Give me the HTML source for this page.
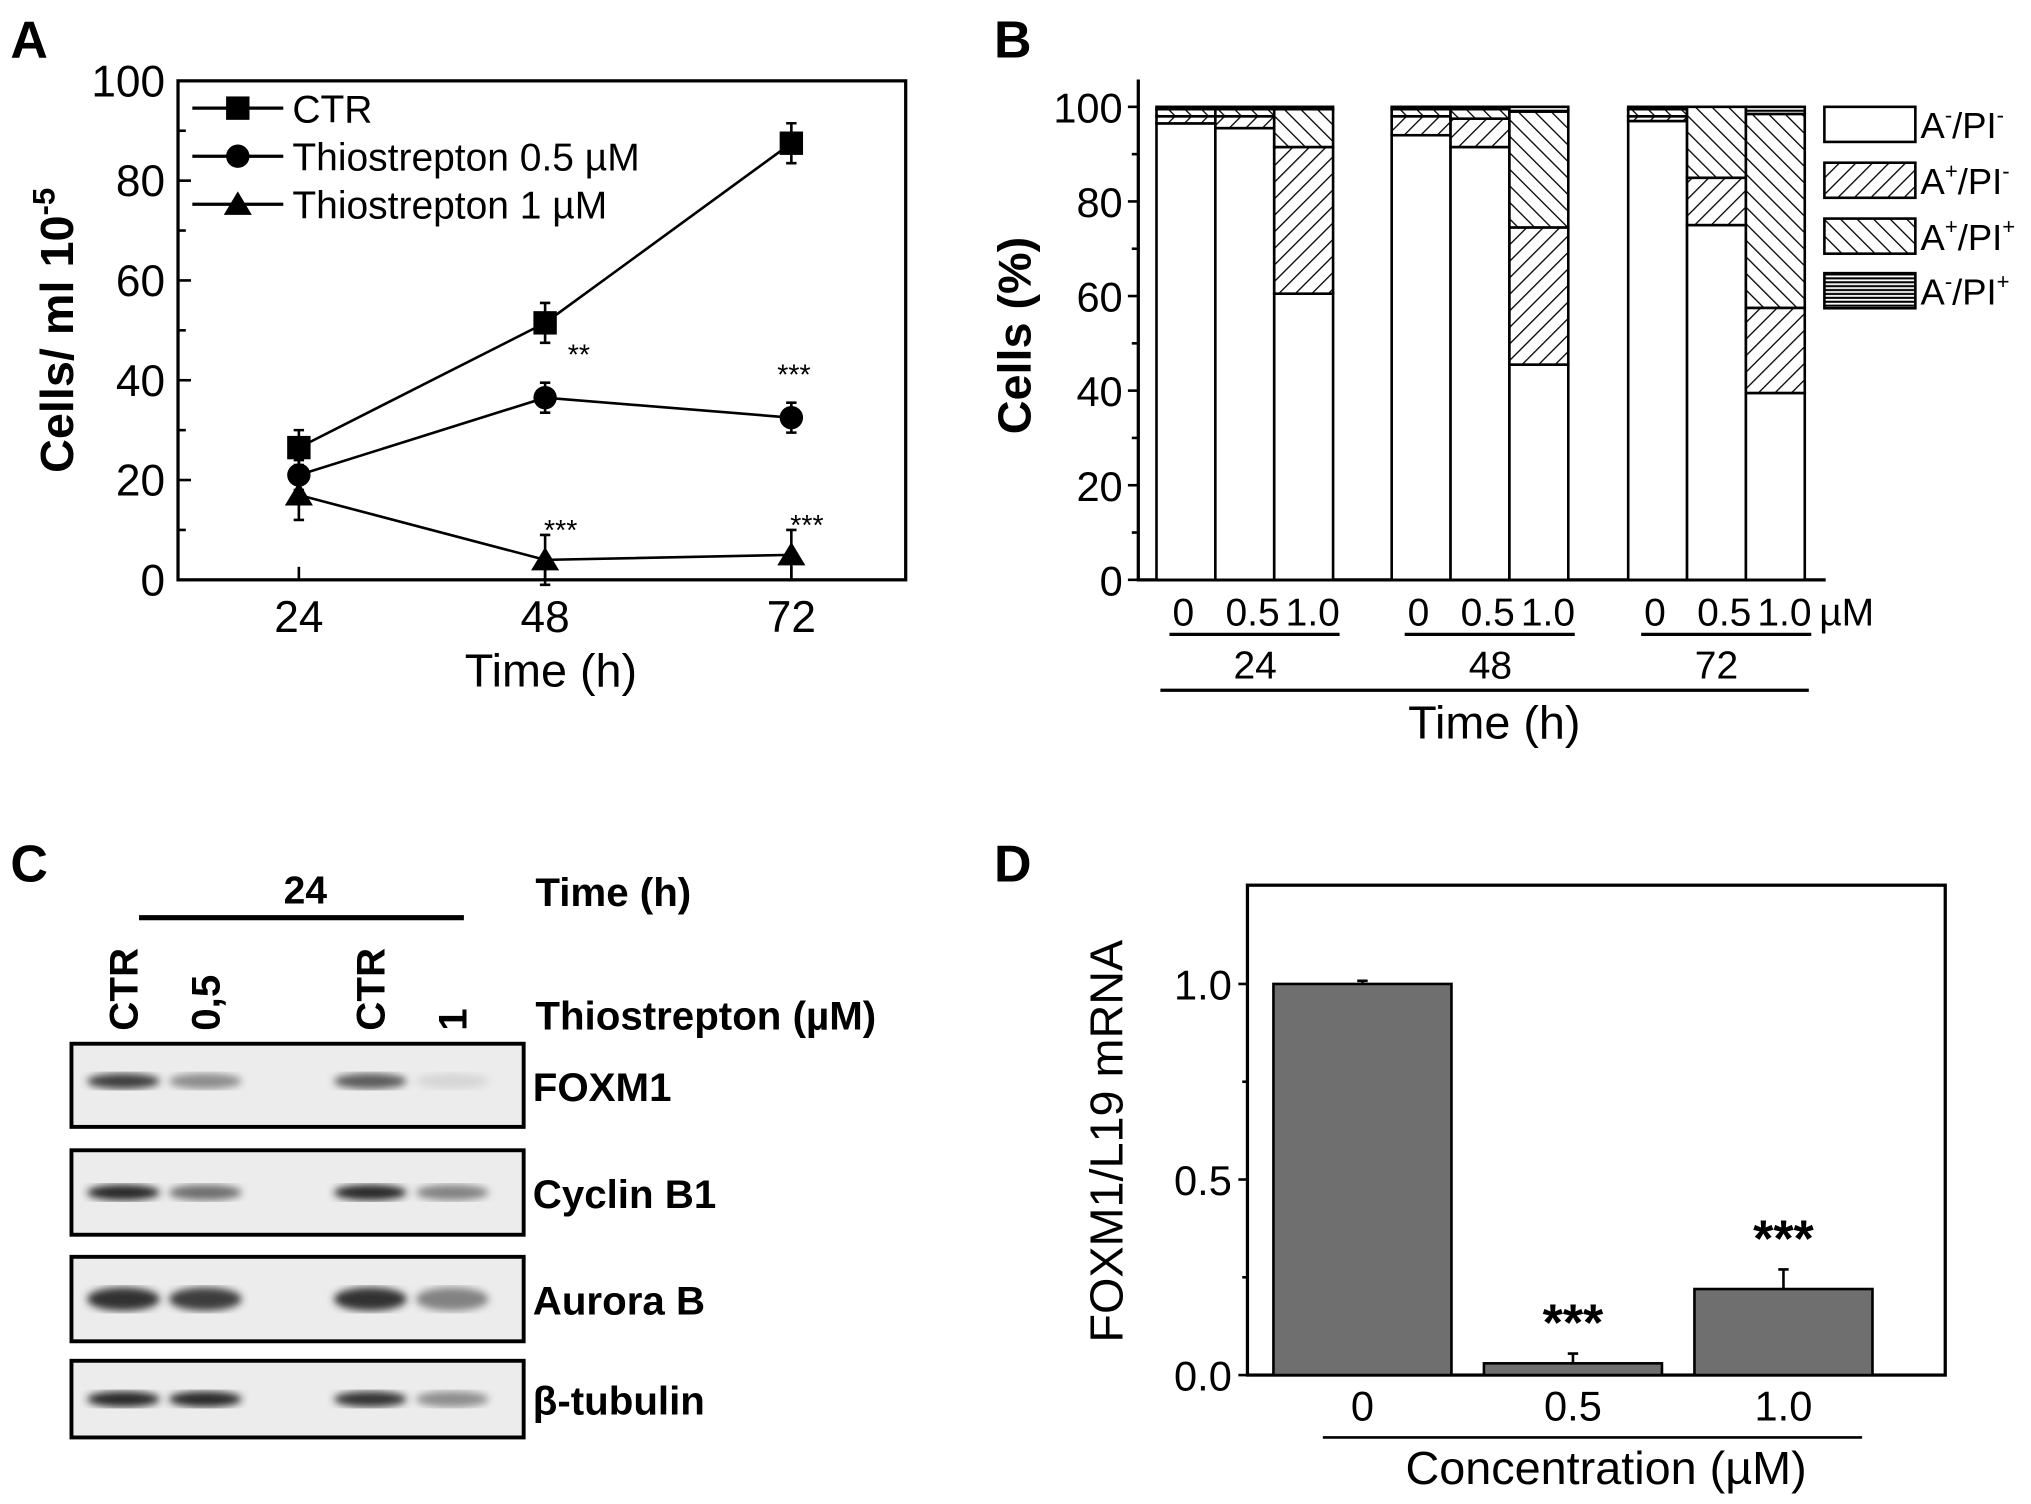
<!DOCTYPE html>
<html><head><meta charset="utf-8">
<style>
html,body{margin:0;padding:0;background:#fff;}
svg{display:block;}
text{font-family:"Liberation Sans",Arial,sans-serif;fill:#000;}
</style></head>
<body>
<svg id="fig" width="2031" height="1504" viewBox="0 0 1563 1157" xmlns="http://www.w3.org/2000/svg">
<defs>
<pattern id="hatchF" patternUnits="userSpaceOnUse" width="9" height="9" patternTransform="rotate(45)"><rect width="9" height="9" fill="#fff"/><line x1="0" y1="0" x2="0" y2="9" stroke="#000" stroke-width="2"/></pattern>
<pattern id="hatchB" patternUnits="userSpaceOnUse" width="9" height="9" patternTransform="rotate(-45)"><rect width="9" height="9" fill="#fff"/><line x1="0" y1="0" x2="0" y2="9" stroke="#000" stroke-width="2"/></pattern>
<pattern id="hatchH" patternUnits="userSpaceOnUse" width="4" height="3"><rect width="4" height="3" fill="#fff"/><line x1="0" y1="1" x2="4" y2="1" stroke="#000" stroke-width="1.6"/></pattern>
<filter id="blur"><feGaussianBlur stdDeviation="3"/></filter>
</defs>
<g id="panelA"></g>
<g id="panelB"></g>
<g id="panelC"></g>
<g id="panelD"></g>
</svg>
<script>
// ---------- Panel A data ----------
const aTimes = [24, 48, 72];
const aSeriesNames = ["CTR", "Thiostrepton 0.5 µM", "Thiostrepton 1 µM"];
const aCTR = [26.5, 51.5, 87.5];
const aCTRerr = [3.5, 4, 4];
const aT05 = [21, 36.5, 32.5];
const aT05err = [3, 3, 3];
const aT1 = [17, 4, 5];
const aT1err = [5, 5, 5];
const aYTicks = [0, 20, 40, 60, 80, 100];
const aSig05 = ["", "**", "***"];
const aSig1 = ["", "***", "***"];

// ---------- Panel B data ----------
const bTimes = ["24", "48", "72"];
const bConcs = ["0", "0.5", "1.0"];
const bLegend = ["A-/PI-", "A+/PI-", "A+/PI+", "A-/PI+"];
const bNegNeg = [96.5, 95.5, 60.5, 94, 91.5, 45.5, 97, 75, 39.5];
const bPosNeg = [1.5, 2.5, 31, 4, 6, 29, 1, 10, 18];
const bPosPos = [1.5, 1.5, 8, 1.5, 2, 24.5, 1.5, 15, 41];
const bNegPos = [0.5, 0.5, 0.5, 0.5, 0.5, 1, 0.5, 0, 1.5];
const bYTicks = [0, 20, 40, 60, 80, 100];

// ---------- Panel C data ----------
const cLanes = ["CTR", "0,5", "CTR", "1"];
const cProteins = ["FOXM1", "Cyclin B1", "Aurora B", "β-tubulin"];
const cFOXM1 = [0.85, 0.45, 0.7, 0.08];
const cCyclin = [0.95, 0.6, 0.95, 0.5];
const cAurora = [0.9, 0.85, 0.9, 0.5];
const cTubulin = [0.95, 0.95, 0.9, 0.45];

// ---------- Panel D data ----------
const dCats = ["0", "0.5", "1.0"];
const dVals = [1.0, 0.03, 0.22];
const dErr = [0.008, 0.025, 0.05];
const dSig = ["", "***", "***"];
const dYTicks = [0.0, 0.5, 1.0];

const NS = "http://www.w3.org/2000/svg";
function mk(parent, tag, attrs, txt) {
  const e = document.createElementNS(NS, tag);
  for (const k in attrs) e.setAttribute(k, attrs[k]);
  if (txt !== undefined) e.textContent = txt;
  parent.appendChild(e);
  return e;
}

// ================= Panel A =================
(function(){
  const g = document.getElementById('panelA');
  const X0 = 137, X1 = 697, Y0 = 446, Y1 = 62;
  const xs = t => 230 + (t - 24) * (609 - 230) / 48;
  const ys = v => Y0 - v * (Y0 - Y1) / 100;
  let e;
  e = mk(g, 'text', {x: 8, y: 44, 'font-size': 40, 'font-weight': 'bold'}, 'A');
   
  e = mk(g, 'rect', {x: X0, y: Y1, width: X1 - X0, height: Y0 - Y1, fill: 'none', stroke: '#000', 'stroke-width': 2.5});
   
  aYTicks.forEach(v => {
    e = mk(g, 'line', {x1: X0, x2: X0 + 10, y1: ys(v), y2: ys(v), stroke: '#000', 'stroke-width': 2});
     
    e = mk(g, 'text', {x: X0 - 10, y: ys(v) + 12, 'font-size': 34, 'text-anchor': 'end'}, String(v));
     
  });
  for (let v = 10; v < 100; v += 20) {
    e = mk(g, 'line', {x1: X0, x2: X0 + 6, y1: ys(v), y2: ys(v), stroke: '#000', 'stroke-width': 2});
     
  }
  aTimes.forEach(t => {
    e = mk(g, 'line', {x1: xs(t), x2: xs(t), y1: Y0, y2: Y0 - 10, stroke: '#000', 'stroke-width': 2});
     
    e = mk(g, 'text', {x: xs(t), y: Y0 + 40, 'font-size': 34, 'text-anchor': 'middle'}, String(t));
     
  });
  e = mk(g, 'text', {x: 424, y: 528, 'font-size': 36, 'text-anchor': 'middle'}, 'Time (h)');
   
  const yt = mk(g, 'text', {x: 0, y: 0, 'font-size': 36, 'font-weight': 'bold', transform: 'translate(56,254) rotate(-90)', 'text-anchor': 'middle'});
   
  yt.appendChild(document.createTextNode('Cells/ ml 10'));
  mk(yt, 'tspan', {'font-size': 24, dy: -14}, '-5');

  const series = [[aCTR, aCTRerr, 'square'], [aT05, aT05err, 'circle'], [aT1, aT1err, 'triangle']];
  function marker(par, type, cx, cy, s) {
    let m;
    if (type === 'square') m = mk(par, 'rect', {x: cx - s, y: cy - s, width: 2 * s, height: 2 * s, fill: '#000'});
    else if (type === 'circle') m = mk(par, 'circle', {cx: cx, cy: cy, r: s, fill: '#000'});
    else m = mk(par, 'polygon', {points: `${cx},${cy - s * 1.1} ${cx - s * 1.2},${cy + s * 0.9} ${cx + s * 1.2},${cy + s * 0.9}`, fill: '#000'});
    return m;
  }
  series.forEach((sr, si) => {
    const [vals, errs, type] = sr;
    const sg = mk(g, 'g', {});
    
    
    const pts = vals.map((v, i) => xs(aTimes[i]) + ',' + ys(v)).join(' ');
    e = mk(sg, 'polyline', {points: pts, fill: 'none', stroke: '#000', 'stroke-width': 2});
     
    vals.forEach((v, i) => {
      const x = xs(aTimes[i]);
      e = mk(sg, 'path', {d: `M${x},${ys(v - errs[i])}V${ys(v + errs[i])}M${x - 4},${ys(v + errs[i])}H${x + 4}M${x - 4},${ys(v - errs[i])}H${x + 4}`, stroke: '#000', 'stroke-width': 2, fill: 'none'});
       
      e = marker(sg, type, x, ys(v), 9);
       
    });
  });
  aSig05.forEach((s, i) => { if (!s) return;
    e = mk(g, 'text', {x: xs(aTimes[i]) + (i === 1 ? 26 : 2), y: ys(aT05[i] + aT05err[i]) - 14, 'font-size': 22, 'text-anchor': 'middle'}, s);
     
  });
  aSig1.forEach((s, i) => { if (!s) return;
    e = mk(g, 'text', {x: xs(aTimes[i]) + 12, y: ys(aT1[i] + aT1err[i]) + 4, 'font-size': 22, 'text-anchor': 'middle'}, s);
     
  });
  const types = ['square', 'circle', 'triangle'];
  aSeriesNames.forEach((n, i) => {
    const ly = 83 + i * 37;
    const lg = mk(g, 'g', {});
     
    mk(lg, 'line', {x1: 148, x2: 218, y1: ly, y2: ly, stroke: '#000', 'stroke-width': 2.5});
    marker(lg, types[i], 183, ly, 9);
    mk(lg, 'text', {x: 225, y: ly + 11, 'font-size': 30}, n);
  });
})();

// ================= Panel B =================
(function(){
  const g = document.getElementById('panelB');
  const AX = 876, Y0 = 446, Y100 = 82;
  const ys = v => Y0 - v * (Y0 - Y100) / 100;
  const groupStart = [890, 1071, 1253];
  const bw = 45.3;
  let e;
  e = mk(g, 'text', {x: 765, y: 44, 'font-size': 40, 'font-weight': 'bold'}, 'B');
   
  e = mk(g, 'path', {d: `M${AX},61V${Y0}H1405`, stroke: '#000', 'stroke-width': 2.5, fill: 'none'});
   
  bYTicks.forEach(v => {
    e = mk(g, 'line', {x1: AX - 8, x2: AX, y1: ys(v), y2: ys(v), stroke: '#000', 'stroke-width': 2});
     
    e = mk(g, 'text', {x: AX - 12, y: ys(v) + 12, 'font-size': 32, 'text-anchor': 'end'}, String(v));
     
  });
  for (let v = 10; v < 100; v += 20) {
    e = mk(g, 'line', {x1: AX - 5, x2: AX, y1: ys(v), y2: ys(v), stroke: '#000', 'stroke-width': 2});
     
  }
  e = mk(g, 'text', {x: 0, y: 0, 'font-size': 36, 'font-weight': 'bold', transform: 'translate(793,258) rotate(-90)', 'text-anchor': 'middle'}, 'Cells (%)');
   
  const fills = ['#fff', 'url(#hatchF)', 'url(#hatchB)', 'url(#hatchH)'];
  const layers = [bNegNeg, bPosNeg, bPosPos, bNegPos];
  for (let i = 0; i < 9; i++) {
    const gi = Math.floor(i / 3), ci = i % 3;
    const x = groupStart[gi] + ci * bw;
    let base = 0;
    layers.forEach((L, li) => {
      const v = L[i];
      if (v <= 0) return;
      e = mk(g, 'rect', {x: x, y: ys(base + v), width: bw, height: ys(base) - ys(base + v), fill: fills[li], stroke: '#000', 'stroke-width': 2});
      
      
      base += v;
    });
  }
  for (let gi = 0; gi < 3; gi++) {
    bConcs.forEach((c, ci) => {
      const cx = groupStart[gi] + ci * bw + bw / 2 + (ci === 0 ? -2 : ci === 1 ? 6 : 7);
      e = mk(g, 'text', {x: cx, y: 481, 'font-size': 30, 'text-anchor': 'middle'}, c);
       
    });
    e = mk(g, 'line', {x1: groupStart[gi] + 10, x2: groupStart[gi] + 3 * bw + 5, y1: 488, y2: 488, stroke: '#000', 'stroke-width': 2.5});
     
    e = mk(g, 'text', {x: groupStart[gi] + 1.5 * bw + (gi === 2 ? 0 : 8), y: 522, 'font-size': 30, 'text-anchor': 'middle'}, bTimes[gi]);
     
  }
  e = mk(g, 'text', {x: 1400, y: 481, 'font-size': 30}, 'µM');
   
  e = mk(g, 'line', {x1: 893, x2: 1392, y1: 531, y2: 531, stroke: '#000', 'stroke-width': 2.5});
   
  e = mk(g, 'text', {x: 1150, y: 568, 'font-size': 36, 'text-anchor': 'middle'}, 'Time (h)');
   
  const ly = [82, 125, 168, 210];
  bLegend.forEach((n, i) => {
    const lg = mk(g, 'g', {});
     
    mk(lg, 'rect', {x: 1404, y: ly[i], width: 70, height: 27, fill: fills[i], stroke: '#000', 'stroke-width': 2});
    const t = mk(lg, 'text', {x: 1478, y: ly[i] + 24, 'font-size': 28});
    t.appendChild(document.createTextNode('A'));
    mk(t, 'tspan', {'font-size': 17, dy: -12}, n[1]);
    mk(t, 'tspan', {dy: 12}, '/PI');
    mk(t, 'tspan', {'font-size': 17, dy: -12}, n[5]);
  });
})();

// ================= Panel C =================
(function(){
  const g = document.getElementById('panelC');
  let e;
  e = mk(g, 'text', {x: 8, y: 678, 'font-size': 40, 'font-weight': 'bold'}, 'C');
   
  e = mk(g, 'text', {x: 235, y: 695, 'font-size': 30, 'font-weight': 'bold', 'text-anchor': 'middle'}, '24');
   
  e = mk(g, 'line', {x1: 107, x2: 357, y1: 706, y2: 706, stroke: '#000', 'stroke-width': 4});
   
  e = mk(g, 'text', {x: 412, y: 697, 'font-size': 31, 'font-weight': 'bold'}, 'Time (h)');
   
  e = mk(g, 'text', {x: 412, y: 792, 'font-size': 31, 'font-weight': 'bold'}, 'Thiostrepton  (µM)');
   
  const laneX = [95, 158, 285, 348];
  cLanes.forEach((l, i) => {
    e = mk(g, 'text', {x: 0, y: 0, 'font-size': 31, 'font-weight': 'bold', transform: `translate(${laneX[i] + 11},793) rotate(-90)`}, l);
     
  });
  const boxes = [[803, 867], [885, 950], [967, 1032], [1047, 1106]];
  const bandData = [cFOXM1, cCyclin, cAurora, cTubulin];
  const bandY = [0.45, 0.5, 0.5, 0.5];
  cProteins.forEach((p, pi) => {
    const [y0, y1] = boxes[pi];
    const bg = mk(g, 'g', {});
    
    
    mk(bg, 'rect', {x: 55, y: y0, width: 348, height: y1 - y0, fill: '#ececec', stroke: '#000', 'stroke-width': 3});
    bandData[pi].forEach((v, li) => {
      const cy = y0 + (y1 - y0) * bandY[pi];
      const gray = Math.round(230 - v * 200);
      const b = mk(bg, 'ellipse', {cx: laneX[li], cy: cy, rx: 28, ry: pi === 2 ? 9 : 6, fill: `rgb(${gray},${gray},${gray})`, filter: 'url(#blur)'});
      
      
    });
    e = mk(g, 'text', {x: 410, y: (y0 + y1) / 2 + 12, 'font-size': 31, 'font-weight': 'bold'}, p);
     
  });
})();

// ================= Panel D =================
(function(){
  const g = document.getElementById('panelD');
  const X0 = 960, X1 = 1497, Y0 = 1058, Y1 = 681;
  const ys = v => Y0 - v * 301;
  const barX = [980, 1142, 1304];
  const bw = 137;
  let e;
  e = mk(g, 'text', {x: 765, y: 678, 'font-size': 40, 'font-weight': 'bold'}, 'D');
   
  e = mk(g, 'rect', {x: X0, y: Y1, width: X1 - X0, height: Y0 - Y1, fill: 'none', stroke: '#000', 'stroke-width': 2.5});
   
  dYTicks.forEach(v => {
    e = mk(g, 'line', {x1: X0 - 7, x2: X0, y1: ys(v), y2: ys(v), stroke: '#000', 'stroke-width': 2});
     
    e = mk(g, 'text', {x: X0 - 12, y: ys(v) + 12, 'font-size': 32, 'text-anchor': 'end'}, v.toFixed(1));
     
  });
  [0.25, 0.75].forEach(v => {
    e = mk(g, 'line', {x1: X0 - 4, x2: X0, y1: ys(v), y2: ys(v), stroke: '#000', 'stroke-width': 2});
     
  });
  e = mk(g, 'text', {x: 0, y: 0, 'font-size': 36, transform: 'translate(864,878) rotate(-90)', 'text-anchor': 'middle'}, 'FOXM1/L19 mRNA');
   
  dVals.forEach((v, i) => {
    const x = barX[i];
    e = mk(g, 'rect', {x: x, y: ys(v), width: bw, height: ys(0) - ys(v), fill: '#6f6f6f', stroke: '#000', 'stroke-width': 2});
     
    const cx = x + bw / 2;
    e = mk(g, 'path', {d: `M${cx},${ys(v)}V${ys(v + dErr[i])}M${cx - 4},${ys(v + dErr[i])}H${cx + 4}`, stroke: '#000', 'stroke-width': 2, fill: 'none'});
     
    if (dSig[i]) {
      e = mk(g, 'text', {x: cx, y: ys(v + dErr[i]) - 10, 'font-size': 40, 'font-weight': 'bold', 'text-anchor': 'middle'}, dSig[i]);
       
    }
    e = mk(g, 'text', {x: cx, y: 1093, 'font-size': 32, 'text-anchor': 'middle'}, dCats[i]);
     
  });
  e = mk(g, 'line', {x1: 1018, x2: 1433, y1: 1106, y2: 1106, stroke: '#000', 'stroke-width': 2});
   
  e = mk(g, 'text', {x: 1236, y: 1142, 'font-size': 36, 'text-anchor': 'middle'}, 'Concentration (µM)');
   
})();
</script>
</body></html>
